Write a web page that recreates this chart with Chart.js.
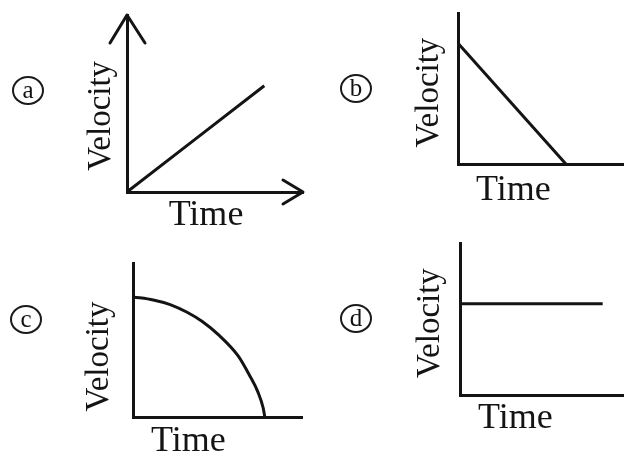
<!DOCTYPE html>
<html>
<head>
<meta charset="utf-8">
<script src="https://cdn.jsdelivr.net/npm/chart.js@4"></script>
<style>
  html, body { margin: 0; padding: 0; background: #fff; overflow: hidden; }
  #wrap { position: relative; width: 624px; height: 453px; overflow: hidden; }
  canvas { position: absolute; left: 0; top: 0; }
  .tag {
    position: absolute; box-sizing: border-box; width: 32px; height: 29px;
    border: 2px solid #1a1a1a; border-radius: 50%;
    font: 25px 'Liberation Serif', serif; color: #111; line-height: 1;
    display: flex; align-items: center; justify-content: center; padding-bottom: 2px;
  }
</style>
</head>
<body>
<div id="wrap">
  <canvas id="chartA" width="624" height="500"></canvas>
  <canvas id="chartB" width="624" height="500"></canvas>
  <canvas id="chartC" width="624" height="500"></canvas>
  <canvas id="chartD" width="624" height="500"></canvas>
  <div class="tag" style="left:12px;top:76px">a</div>
  <div class="tag" style="left:340px;top:74px">b</div>
  <div class="tag" style="left:10px;top:305px">c</div>
  <div class="tag" style="left:340px;top:304px">d</div>
</div>
<script>
// values (axes run 0..10)
const timeA = [0, 7.8];
const velocityA = [0, 6.0];

const timeB = [0, 6.5];
const velocityB = [8.0, 0];

const timeC = [0, 1.2, 2.2, 3.2, 4.1, 5.1, 6.2, 6.9, 7.4, 7.7, 7.8];
const velocityC = [7.8, 7.6, 7.3, 6.8, 6.2, 5.3, 4.0, 2.7, 1.6, 0.6, 0];

const timeD = [0, 8.7];
const velocityD = [6.0, 6.0];

const ink = '#141414';
const serif = "'Liberation Serif', 'Times New Roman', serif";

// open arrow heads on the axes of panel (a)
const arrowHeads = {
  id: 'arrowHeads',
  afterDraw(chart, args, opts) {
    if (!opts.show) return;
    const {ctx, chartArea: {left, top, right, bottom}} = chart;
    ctx.save();
    ctx.strokeStyle = ink;
    ctx.lineWidth = 3;
    ctx.lineCap = 'round';
    ctx.lineJoin = 'round';
    ctx.beginPath();
    ctx.moveTo(left - 17, top + 28); ctx.lineTo(left, top); ctx.lineTo(left + 18, top + 28);
    ctx.moveTo(right - 20, bottom - 12); ctx.lineTo(right, bottom); ctx.lineTo(right - 20, bottom + 12);
    ctx.stroke();
    ctx.restore();
  }
};

function makePanel(id, times, velocities, p) {
  const points = times.map((t, i) => ({x: t, y: velocities[i]}));
  return new Chart(document.getElementById(id), {
    type: 'line',
    data: {
      datasets: [{
        data: points,
        borderColor: ink,
        borderWidth: 3,
        pointRadius: 0,
        fill: false,
        cubicInterpolationMode: 'monotone'
      }]
    },
    options: {
      responsive: false,
      animation: false,
      layout: { padding: p.layout },
      plugins: {
        legend: { display: false },
        tooltip: { enabled: false },
        arrowHeads: { show: !!p.arrows }
      },
      scales: {
        x: {
          type: 'linear', min: 0, max: 10,
          grid: { display: false, drawTicks: false },
          border: { color: ink, width: 3 },
          ticks: { display: false },
          title: {
            display: true, text: p.xText, align: p.xAlign, color: ink,
            font: { family: serif, size: 36, lineHeight: 1 },
            padding: p.xPad
          }
        },
        y: {
          type: 'linear', min: 0, max: 10,
          grid: { display: false, drawTicks: false },
          border: { color: ink, width: 3 },
          ticks: { display: false },
          title: {
            display: true, text: p.yText, color: ink,
            font: { family: serif, size: 33, lineHeight: 1 },
            padding: p.yPad
          }
        }
      }
    },
    plugins: [arrowHeads]
  });
}

makePanel('chartA', timeA, velocityA, {
  layout: { left: 60, top: 15, right: 321, bottom: 266 },
  yPad: { top: 24.5, bottom: 9.5 }, xPad: { top: 6, bottom: 0 },
  yText: 'Velocity   ', xText: 'Time  ', xAlign: 'center', arrows: true
});
makePanel('chartB', timeB, velocityB, {
  layout: { left: 390, top: 13, right: 0, bottom: 291 },
  yPad: { top: 22.5, bottom: 12.5 }, xPad: { top: 9, bottom: 0 },
  yText: 'Velocity ', xText: '  Time', xAlign: 'start'
});
makePanel('chartC', timeC, velocityC, {
  layout: { left: 50, top: 263, right: 322, bottom: 40 },
  yPad: { top: 32.5, bottom: 17.5 }, xPad: { top: 7, bottom: 0 },
  yText: 'Velocity    ', xText: '  Time', xAlign: 'start'
});
makePanel('chartD', timeD, velocityD, {
  layout: { left: 390, top: 243, right: 0, bottom: 63 },
  yPad: { top: 23.5, bottom: 13.5 }, xPad: { top: 6, bottom: 0 },
  yText: 'Velocity ', xText: '  Time', xAlign: 'start'
});
</script>
</body>
</html>
